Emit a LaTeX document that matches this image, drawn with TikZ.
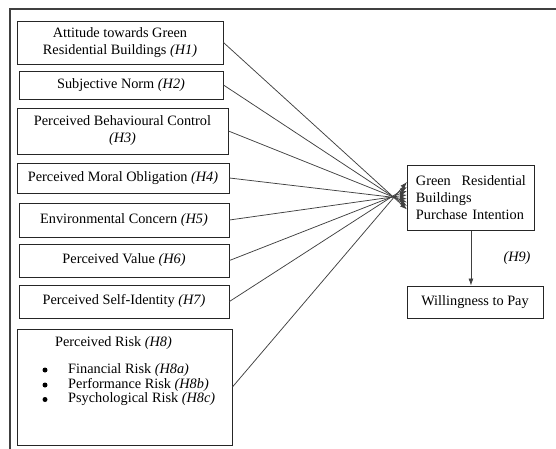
\documentclass[tikz,border=0pt]{standalone}
\usepackage{fontspec}
\setmainfont{Liberation Serif}
\usetikzlibrary{arrows.meta}
\begin{document}
\begin{tikzpicture}[x=1pt,y=-1pt,
  every node/.style={font=\fontsize{14.3}{17}\selectfont, text=black},
  factor/.style={draw=black!85, line width=0.9pt, rectangle, inner sep=0pt, align=center},
  link/.style={draw=black!75, line width=0.75pt, -{Latex[length=7pt,width=5pt]}},
  frame/.style={draw=black!75, line width=1.3pt},
  dot/.style={circle, fill=black, inner sep=0pt, minimum size=5pt}
]
\useasboundingbox (0,0) rectangle (556,449);

% open frame: top and left edges only
\coordinate (ftl) at (10,9);
\coordinate (ftr) at (556,9);
\coordinate (fbl) at (10,449);
\draw[frame] (ftr) -- (ftl) -- (fbl);

% antecedent constructs
\node[factor, minimum width=206, minimum height=43] (h1) at (120,42.5)
  {Attitude towards Green\\Residential Buildings \textit{(H1)}};
\node[factor, minimum width=204, minimum height=28] (h2) at (121,85)
  {Subjective Norm \textit{(H2)}};
\node[factor, minimum width=211, minimum height=46] (h3) at (122.5,131)
  {Perceived Behavioural Control\\\textit{(H3)}};
\node[factor, minimum width=212, minimum height=30] (h4) at (123,178)
  {Perceived Moral Obligation \textit{(H4)}};
\node[factor, minimum width=210, minimum height=34] (h5) at (124,220)
  {Environmental Concern \textit{(H5)}};
\node[factor, minimum width=210, minimum height=33] (h6) at (124,260.5)
  {Perceived Value \textit{(H6)}};
\node[factor, minimum width=210, minimum height=33] (h7) at (124,301.5)
  {Perceived Self-Identity \textit{(H7)}};

% perceived risk with its three dimensions
\node[factor, minimum width=215, minimum height=116] (h8) at (124.5,387) {};
\node (h8title) at (113.5,343) {Perceived Risk \textit{(H8)}};
\node[dot] (b1) at (45,370) {};
\node[dot] (b2) at (45,385) {};
\node[dot] (b3) at (45,399.5) {};
\node[anchor=west, inner xsep=0pt] (r1) at (68,370) {Financial Risk \textit{(H8a)}};
\node[anchor=west, inner xsep=0pt] (r2) at (68,385) {Performance Risk \textit{(H8b)}};
\node[anchor=west, inner xsep=0pt] (r3) at (68,399.5) {Psychological Risk \textit{(H8c)}};

% outcome constructs
\node[factor, anchor=north west, minimum width=127, minimum height=65,
      text width=110, inner xsep=8.5pt, align=left] (pi) at (407,165)
  {\hbox to 110pt{Green\hfill Residential}\\Buildings\\Purchase Intention};
\node[factor, minimum width=136, minimum height=32] (wtp) at (475,302)
  {Willingness to Pay};

% arrow heads converge on the left side of the intention box
\coordinate (e1) at ([yshift=-11.5]pi.west);
\coordinate (e2) at ([yshift=-8]pi.west);
\coordinate (e3) at ([yshift=-4.5]pi.west);
\coordinate (e4) at ([yshift=-1]pi.west);
\coordinate (e5) at ([yshift=3]pi.west);
\coordinate (e6) at ([yshift=7]pi.west);
\coordinate (e7) at ([yshift=11]pi.west);
\coordinate (e8) at ([yshift=16]pi.west);

\draw[link] (h1.east) -- (e1);
\draw[link] (h2.east) -- (e2);
\draw[link] (h3.east) -- (e3);
\draw[link] (h4.east) -- (e4);
\draw[link] (h5.east) -- (e5);
\draw[link] (h6.east) -- (e6);
\draw[link] (h7.east) -- (e7);
\draw[link] (h8.east) -- (e8);

\draw[link] (pi.south) -- (pi.south |- wtp.north);
\node (h9) at (517,258) {\textit{(H9)}};
\end{tikzpicture}
\end{document}
